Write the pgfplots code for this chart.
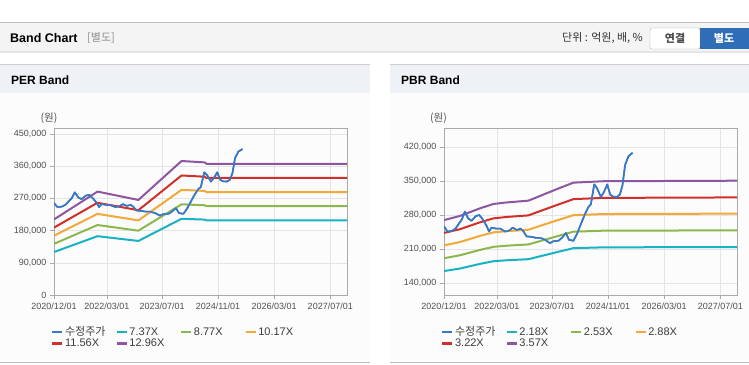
\documentclass[border=0pt]{standalone}
\usepackage{fontspec}
\setmainfont{Liberation Sans}
\newfontfamily\kr{Noto Sans CJK KR}
\usepackage{pgfplots}
\usepackage{pgfplotstable}
\pgfplotsset{compat=1.18}

\definecolor{pricec}{RGB}{58,120,196}
\definecolor{cA}{RGB}{25,178,196}
\definecolor{cB}{RGB}{140,183,77}
\definecolor{cC}{RGB}{243,168,58}
\definecolor{cD}{RGB}{209,47,42}
\definecolor{cE}{RGB}{141,86,163}
\definecolor{axisgray}{RGB}{170,170,170}
\definecolor{gridgray}{RGB}{228,228,228}
\definecolor{ticktext}{RGB}{80,80,80}
\definecolor{legtext}{RGB}{60,60,60}
\definecolor{hdrbg}{RGB}{244,244,244}
\definecolor{panelhead}{RGB}{238,241,246}
\definecolor{panelbody}{RGB}{252,252,252}
\definecolor{btnblue}{RGB}{47,110,182}

% month index from 2020/12 , price in won
\pgfplotstableread{
m price
0 257000
0.9 246000
2.1 247000
3.1 252000
3.9 261000
4.8 271000
5.6 287000
6.5 273000
7.4 268000
8.6 278000
9.5 280000
10.4 271000
11.5 257000
12.1 246000
12.8 254000
14.0 252000
15.1 252000
16.4 246000
17.6 248000
18.5 254000
19.6 249000
20.6 252000
21.3 247000
22.2 236000
23.6 235000
24.7 233000
25.8 233000
27.2 229000
28.5 222000
29.4 226000
30.8 227000
31.7 233000
32.8 243000
33.6 229000
34.8 227000
35.7 240000
36.8 261000
37.8 280000
38.8 296000
39.5 302000
40.4 343000
41.1 336000
42.2 317000
43.0 327000
43.9 343000
44.7 322000
45.4 318000
46.5 317000
47.3 322000
48.0 341000
48.7 383000
49.6 401000
50.7 408000
}\pricetab

\pgfplotstableread{
m a b c d e
0 120100 143000 165800 188400 211200
11.7 164400 195600 226800 257800 289000
22.7 151100 179800 208500 237000 265700
34.3 213000 253500 293900 334100 374500
40.5 210800 250800 290900 330600 370700
41.0 208600 248200 287800 327100 366800
78.8 208600 248200 287800 327100 366800
}\pertab

\pgfplotstableread{
m a b c d e
0 164600 191000 217400 243100 269500
4.3 169800 197100 224400 250800 278100
9.7 179400 208200 237000 265000 293800
13.3 184900 214500 244200 273100 302700
16.9 186800 216800 246800 276000 305900
22.7 189000 219400 249700 279200 309500
25.8 194900 226200 257500 287900 319200
30.3 203400 236000 268700 300400 333100
34.8 211700 245700 279600 312700 346600
42.8 213400 247700 282000 315200 349500
78.8 214100 248400 282800 316200 350600
}\pbrtab

\pgfplotsset{
  bandaxis/.style={
    scale only axis, width=293pt, height=167pt,
    xmin=0, xmax=78.8,
    xtick={0,14.2,29.06,44.1,59.2,74.3},
    xticklabels={2020/12/01,2022/03/01,2023/07/01,2024/11/01,2026/03/01,2027/07/01},
    axis line style={draw=axisgray},
    tick style={draw=axisgray, line width=0.6pt},
    tick align=outside, major tick length=4pt,
    xtick pos=lower, ytick pos=left,
    grid=major, major grid style={draw=gridgray, line width=0.6pt},
    tick label style={font=\fontsize{9}{10}\selectfont, text=ticktext},
    scaled y ticks=false,
    /pgf/number format/fixed,
    /pgf/number format/precision=0,
    /pgf/number format/1000 sep={,},
    /pgf/number format/assume math mode=true,
    legend columns=4,
    legend cell align=left,
    legend image code/.code={\draw[#1, line width=2.4pt] (0pt,0pt) -- (10pt,0pt);},
    legend style={at={(axis description cs:-0.0096,-0.194)}, anchor=north west,
      draw=none, fill=none, inner sep=0pt, outer sep=0pt,
      row sep=2pt, column sep=0pt,
      font=\fontsize{11}{12}\selectfont, text=legtext,
      nodes={inner ysep=0pt, inner xsep=1.5pt},
      /tikz/every even column/.append style={text width=49pt, align=left, text height=8pt, text depth=2.5pt}},
  },
  bandline/.style={line width=2pt, line join=round},
  priceline/.style={pricec, line width=1.6pt, line join=round},
}

\begin{document}
\begin{tikzpicture}[x=1pt,y=-1pt]
\useasboundingbox (0,0) rectangle (749,364);
\fill[white] (0,0) rectangle (749,364);
\coordinate (perA) at (54,295);
\coordinate (pbrA) at (444,295);
% top header
\fill[hdrbg] (0,22) rectangle (749,51);
\draw[black!25, line width=0.8pt] (0,22.4) -- (749,22.4);
\fill[black!10] (0,51) rectangle (749,53);
\node[anchor=west, font=\bfseries\fontsize{12.5}{14}\selectfont, inner sep=0pt] at (10,38) {Band Chart};
\node[anchor=west, font=\kr\fontsize{11}{13}\selectfont, text=black!45, inner sep=0pt] at (87,38) {[별도]};
\node[anchor=east, font=\kr\fontsize{11}{13}\selectfont, text=black!80, inner sep=0pt] at (643,38) {단위 : 억원, 배, \%};
\draw[fill=white, draw=black!30, rounded corners=2pt] (650,28) rectangle (700,49);
\node[font=\kr\bfseries\fontsize{11}{13}\selectfont, text=black!70] at (675,38.5) {연결};
\fill[btnblue] (700,28) rectangle (749,49);
\node[font=\kr\bfseries\fontsize{11}{13}\selectfont, text=white] at (724,38.5) {별도};
% panels
\fill[panelbody] (0,64) rectangle (370,362);
\fill[panelhead] (0,64) rectangle (370,93);
\draw[black!20, line width=0.8pt] (0,64.4) -- (370,64.4);
\draw[black!25, line width=0.8pt] (0,362.6) -- (370,362.6);
\fill[panelbody] (390,64) rectangle (749,362);
\fill[panelhead] (390,64) rectangle (749,93);
\draw[black!20, line width=0.8pt] (390,64.4) -- (749,64.4);
\draw[black!25, line width=0.8pt] (390,362.6) -- (749,362.6);
\node[anchor=west, font=\bfseries\fontsize{12}{14}\selectfont, inner sep=0pt] at (11,80) {PER Band};
\node[anchor=west, font=\bfseries\fontsize{12}{14}\selectfont, inner sep=0pt] at (401,80) {PBR Band};
\node[font=\kr\fontsize{10.5}{12}\selectfont, text=ticktext] at (49,118.5) {(원)};
\node[font=\kr\fontsize{10.5}{12}\selectfont, text=ticktext] at (438.5,118.5) {(원)};

% PER Band axis
\begin{axis}[bandaxis, at={(perA)}, anchor=south west,
  ymin=0, ymax=466770, ytick={0,90000,180000,270000,360000,450000}]
\addplot[priceline] table[x=m,y=price]{\pricetab};
\addlegendentry{{\kr 수정주가}}
\addplot[bandline, cA] table[x=m,y=a]{\pertab};
\addlegendentry{7.37X}
\addplot[bandline, cB] table[x=m,y=b]{\pertab};
\addlegendentry{8.77X}
\addplot[bandline, cC] table[x=m,y=c]{\pertab};
\addlegendentry{10.17X}
\addplot[bandline, cD] table[x=m,y=d]{\pertab};
\addlegendentry{11.56X}
\addplot[bandline, cE] table[x=m,y=e]{\pertab};
\addlegendentry{12.96X}
\addplot[priceline, forget plot] table[x=m,y=price]{\pricetab};
\end{axis}

% PBR Band axis
\begin{axis}[bandaxis, at={(pbrA)}, anchor=south west,
  ymin=115300, ymax=459100, ytick={140000,210000,280000,350000,420000}]
\addplot[priceline] table[x=m,y=price]{\pricetab};
\addlegendentry{{\kr 수정주가}}
\addplot[bandline, cA] table[x=m,y=a]{\pbrtab};
\addlegendentry{2.18X}
\addplot[bandline, cB] table[x=m,y=b]{\pbrtab};
\addlegendentry{2.53X}
\addplot[bandline, cC] table[x=m,y=c]{\pbrtab};
\addlegendentry{2.88X}
\addplot[bandline, cD] table[x=m,y=d]{\pbrtab};
\addlegendentry{3.22X}
\addplot[bandline, cE] table[x=m,y=e]{\pbrtab};
\addlegendentry{3.57X}
\addplot[priceline, forget plot] table[x=m,y=price]{\pricetab};
\end{axis}
\end{tikzpicture}
\end{document}
